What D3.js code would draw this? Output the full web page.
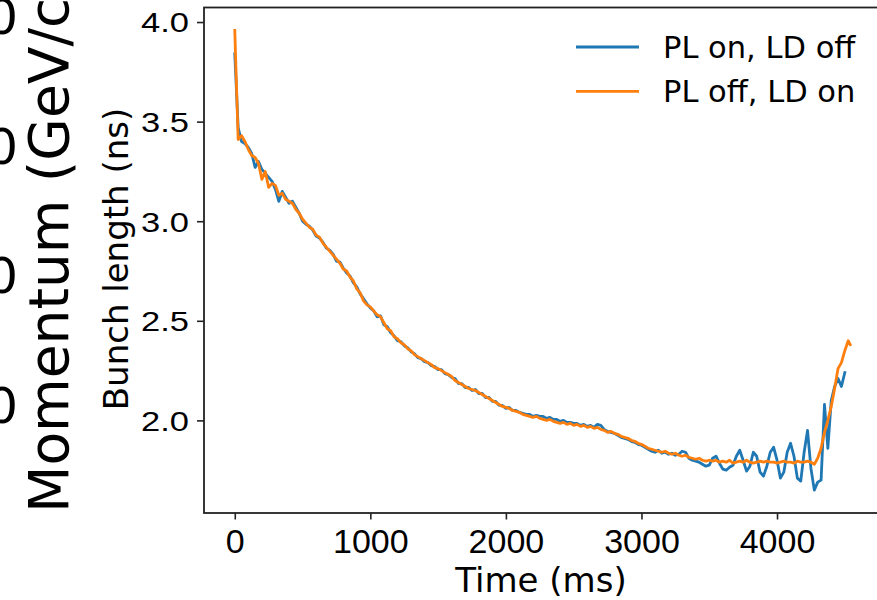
<!DOCTYPE html>
<html>
<head>
<meta charset="utf-8">
<script src="https://cdn.jsdelivr.net/npm/d3@7"></script>
<style>
  body { margin: 0; background: #fff; }
  svg { display: block; font-family: "DejaVu Sans", sans-serif; }
</style>
</head>
<body>
<div id="wrapper"></div>
<script>
// sample times (ms), shared by both series
const timeMs = [
  0, 25, 50, 75, 100, 125, 150, 175, 200, 225,
  250, 275, 300, 325, 350, 375, 400, 425, 450, 475,
  500, 525, 550, 575, 600, 625, 650, 675, 700, 725,
  750, 775, 800, 825, 850, 875, 900, 925, 950, 975,
  1000, 1025, 1050, 1075, 1100, 1125, 1150, 1175, 1200, 1225,
  1250, 1275, 1300, 1325, 1350, 1375, 1400, 1425, 1450, 1475,
  1500, 1525, 1550, 1575, 1600, 1625, 1650, 1675, 1700, 1725,
  1750, 1775, 1800, 1825, 1850, 1875, 1900, 1925, 1950, 1975,
  2000, 2025, 2050, 2075, 2100, 2125, 2150, 2175, 2200, 2225,
  2250, 2275, 2300, 2325, 2350, 2375, 2400, 2425, 2450, 2475,
  2500, 2525, 2550, 2575, 2600, 2625, 2650, 2675, 2700, 2725,
  2750, 2775, 2800, 2825, 2850, 2875, 2900, 2925, 2950, 2975,
  3000, 3025, 3050, 3075, 3100, 3125, 3150, 3175, 3200, 3225,
  3250, 3275, 3300, 3325, 3350, 3375, 3400, 3425, 3450, 3475,
  3500, 3525, 3550, 3575, 3600, 3625, 3650, 3675, 3700, 3725,
  3750, 3775, 3800, 3825, 3850, 3875, 3900, 3925, 3950, 3975,
  4000, 4025, 4050, 4075, 4100, 4125, 4150, 4175, 4200, 4225,
  4250, 4275, 4300, 4325, 4350, 4375, 4400, 4425, 4450, 4475,
  4500, 4525, 4540
]

// bunch length (ns), PL on / LD off
const plOnLdOff = [
  3.84, 3.47, 3.40, 3.39, 3.37, 3.34, 3.27, 3.30, 3.26, 3.24,
  3.22, 3.20, 3.16, 3.10, 3.15, 3.12, 3.09, 3.10, 3.07, 3.04,
  3.00, 2.985, 2.975, 2.955, 2.925, 2.915, 2.895, 2.865, 2.855, 2.835,
  2.80, 2.795, 2.765, 2.74, 2.725, 2.69, 2.67, 2.635, 2.61, 2.585,
  2.565, 2.55, 2.52, 2.525, 2.48, 2.47, 2.44, 2.425, 2.40, 2.395,
  2.375, 2.365, 2.345, 2.335, 2.315, 2.31, 2.295, 2.29, 2.275, 2.27,
  2.255, 2.255, 2.235, 2.23, 2.215, 2.21, 2.185, 2.185, 2.165, 2.165,
  2.15, 2.155, 2.135, 2.135, 2.115, 2.115, 2.095, 2.095, 2.075, 2.075,
  2.06, 2.065, 2.05, 2.05, 2.04, 2.035, 2.03, 2.03, 2.02, 2.025,
  2.02, 2.02, 2.01, 2.015, 2.005, 2.005, 1.995, 2.0, 1.99, 1.99,
  1.985, 1.985, 1.975, 1.98, 1.97, 1.975, 1.965, 1.98, 1.975, 1.955,
  1.945, 1.94, 1.935, 1.925, 1.915, 1.91, 1.905, 1.895, 1.89, 1.88,
  1.875, 1.865, 1.855, 1.845, 1.84, 1.85, 1.835, 1.84, 1.83, 1.835,
  1.825, 1.83, 1.845, 1.84, 1.81, 1.80, 1.795, 1.79, 1.78, 1.77,
  1.775, 1.81, 1.82, 1.785, 1.755, 1.75, 1.765, 1.775, 1.82, 1.85,
  1.80, 1.745, 1.77, 1.84, 1.82, 1.74, 1.72, 1.77, 1.84, 1.865,
  1.80, 1.71, 1.74, 1.84, 1.885, 1.82, 1.71, 1.695, 1.84, 1.95,
  1.76, 1.65, 1.69, 1.70, 2.08, 1.86, 2.10, 2.17, 2.21, 2.17,
  2.24
]

// bunch length (ns), PL off / LD on
const plOffLdOn = [
  3.958, 3.41, 3.43, 3.40, 3.36, 3.33, 3.32, 3.29, 3.21, 3.25,
  3.17, 3.19, 3.18, 3.13, 3.14, 3.11, 3.10, 3.09, 3.06, 3.04,
  3.01, 2.99, 2.97, 2.96, 2.93, 2.92, 2.89, 2.87, 2.85, 2.83,
  2.81, 2.79, 2.76, 2.75, 2.72, 2.70, 2.66, 2.64, 2.60, 2.58,
  2.57, 2.55, 2.53, 2.52, 2.49, 2.46, 2.45, 2.42, 2.41, 2.39,
  2.38, 2.36, 2.35, 2.33, 2.32, 2.31, 2.30, 2.29, 2.28, 2.265,
  2.26, 2.25, 2.24, 2.23, 2.22, 2.20, 2.19, 2.18, 2.17, 2.16,
  2.155, 2.15, 2.14, 2.13, 2.12, 2.11, 2.10, 2.09, 2.08, 2.07,
  2.065, 2.06, 2.05, 2.045, 2.04, 2.03, 2.025, 2.02, 2.015, 2.02,
  2.01, 2.005, 2.00, 2.005, 1.995, 1.99, 1.985, 1.99, 1.98, 1.985,
  1.975, 1.98, 1.97, 1.975, 1.965, 1.97, 1.96, 1.965, 1.955, 1.95,
  1.94, 1.945, 1.935, 1.93, 1.92, 1.915, 1.91, 1.90, 1.895, 1.885,
  1.88, 1.87, 1.86, 1.855, 1.85, 1.845, 1.84, 1.845, 1.835, 1.83,
  1.835, 1.825, 1.82, 1.825, 1.815, 1.81, 1.805, 1.81, 1.80, 1.795,
  1.80, 1.795, 1.80, 1.79, 1.795, 1.79, 1.80, 1.785, 1.79, 1.795,
  1.79, 1.80, 1.79, 1.785, 1.79, 1.795, 1.79, 1.795, 1.79, 1.79,
  1.785, 1.79, 1.795, 1.79, 1.79, 1.785, 1.795, 1.79, 1.79, 1.795,
  1.79, 1.78, 1.81, 1.86, 1.94, 2.00, 2.07, 2.16, 2.26, 2.29,
  2.35, 2.40, 2.38
]

const seriesNames = ["PL on, LD off", "PL off, LD on"]
const seriesColors = ["#1f77b4", "#ff7f0e"]
const xTicks = [0, 1000, 2000, 3000, 4000]
const yTicks = [2.0, 2.5, 3.0, 3.5, 4.0]
// neighbouring panel, cut off at the left edge
const leftPanelLabel = "Momentum (GeV/c)"
const leftPanelTicks = ["0", "0", "0", "0"]

let dimensions = {
    width: 877,
    height: 600,
    margin: {
        top: 7.5,
        right: -4,
        bottom: 87,
        left: 204,
    }
}
dimensions.boundedWidth = dimensions.width - dimensions.margin.left - dimensions.margin.right
dimensions.boundedHeight = dimensions.height - dimensions.margin.top - dimensions.margin.bottom

const svg = d3.select("#wrapper")
    .append("svg")
    .attr("width", dimensions.width)
    .attr("height", dimensions.height)

const bounds = svg.append("g")
    .attr("transform", `translate(${dimensions.margin.left},${dimensions.margin.top})`)

// matplotlib-like 5% padding
const xScale = d3.scaleLinear()
    .domain([-227, 4767])
    .range([0, dimensions.boundedWidth])

const yScale = d3.scaleLinear()
    .domain([1.535, 4.073])
    .range([dimensions.boundedHeight, 0])

const series = [plOnLdOff, plOffLdOn].map((vals, i) => ({
    name: seriesNames[i],
    color: seriesColors[i],
    points: vals.map((v, j) => [timeMs[j], v])
}))

const lineGen = d3.line()
    .x(d => xScale(d[0]))
    .y(d => yScale(d[1]))

bounds.append("defs").append("clipPath").attr("id", "clip")
    .append("rect")
    .attr("width", dimensions.boundedWidth)
    .attr("height", dimensions.boundedHeight)

bounds.append("g").attr("clip-path", "url(#clip)")
    .selectAll("path")
    .data(series)
    .join("path")
    .attr("d", d => lineGen(d.points))
    .attr("fill", "none")
    .attr("stroke", d => d.color)
    .attr("stroke-width", 2.8)
    .attr("stroke-linejoin", "round")
    .attr("stroke-linecap", "square")

// axes
const xAxis = bounds.append("g")
    .attr("transform", `translate(0,${dimensions.boundedHeight})`)
    .call(d3.axisBottom(xScale).tickValues(xTicks).tickSize(6.5).tickFormat(d3.format("d")))
xAxis.select(".domain").remove()
xAxis.selectAll("line").attr("stroke", "#222").attr("stroke-width", 1.6)
xAxis.selectAll("text")
    .attr("y", 40).attr("dy", 0)
    .attr("fill", "#000")
    .style("font-size", "34px")

const yAxis = bounds.append("g")
    .call(d3.axisLeft(yScale).tickValues(yTicks).tickSize(7).tickPadding(8).tickFormat(d3.format(".1f")))
yAxis.select(".domain").remove()
yAxis.selectAll("line").attr("stroke", "#222").attr("stroke-width", 1.6)
yAxis.selectAll("text")
    .attr("dy", "0.36em")
    .attr("fill", "#000")
    .attr("transform", "scale(1,0.8)")
    .style("font-size", "34.5px")

// frame
bounds.append("rect")
    .attr("width", dimensions.boundedWidth)
    .attr("height", dimensions.boundedHeight)
    .attr("fill", "none")
    .attr("stroke", "#222")
    .attr("stroke-width", 1.8)

// axis labels
svg.append("text")
    .attr("x", 541).attr("y", 592)
    .attr("text-anchor", "middle")
    .style("font-size", "34px")
    .text("Time (ms)")

svg.append("text")
    .attr("transform", "translate(127.5,259) rotate(-90)")
    .attr("text-anchor", "middle")
    .style("font-size", "34px")
    .text("Bunch length (ns)")

// legend
const legend = svg.append("g").attr("transform", "translate(576,47)")
series.forEach((s, i) => {
    const row = legend.append("g").attr("transform", `translate(0,${i * 44.4})`)
    row.append("line")
        .attr("x1", 0).attr("x2", 63)
        .attr("stroke", s.color).attr("stroke-width", 2.8)
    row.append("text")
        .attr("x", 87).attr("y", 10.5)
        .style("font-size", "30.5px")
        .text(s.name)
})

// clipped neighbour panel
svg.append("text")
    .attr("transform", "translate(68,513) rotate(-90)")
    .style("font-size", "55px")
    .text(leftPanelLabel)

svg.selectAll(".left-tick")
    .data(leftPanelTicks)
    .join("text")
    .attr("class", "left-tick")
    .attr("x", 18)
    .attr("y", (d, i) => 16 + i * 129.5)
    .attr("dy", "0.36em")
    .attr("text-anchor", "end")
    .style("font-size", "50px")
    .text(d => d)
</script>
</body>
</html>
